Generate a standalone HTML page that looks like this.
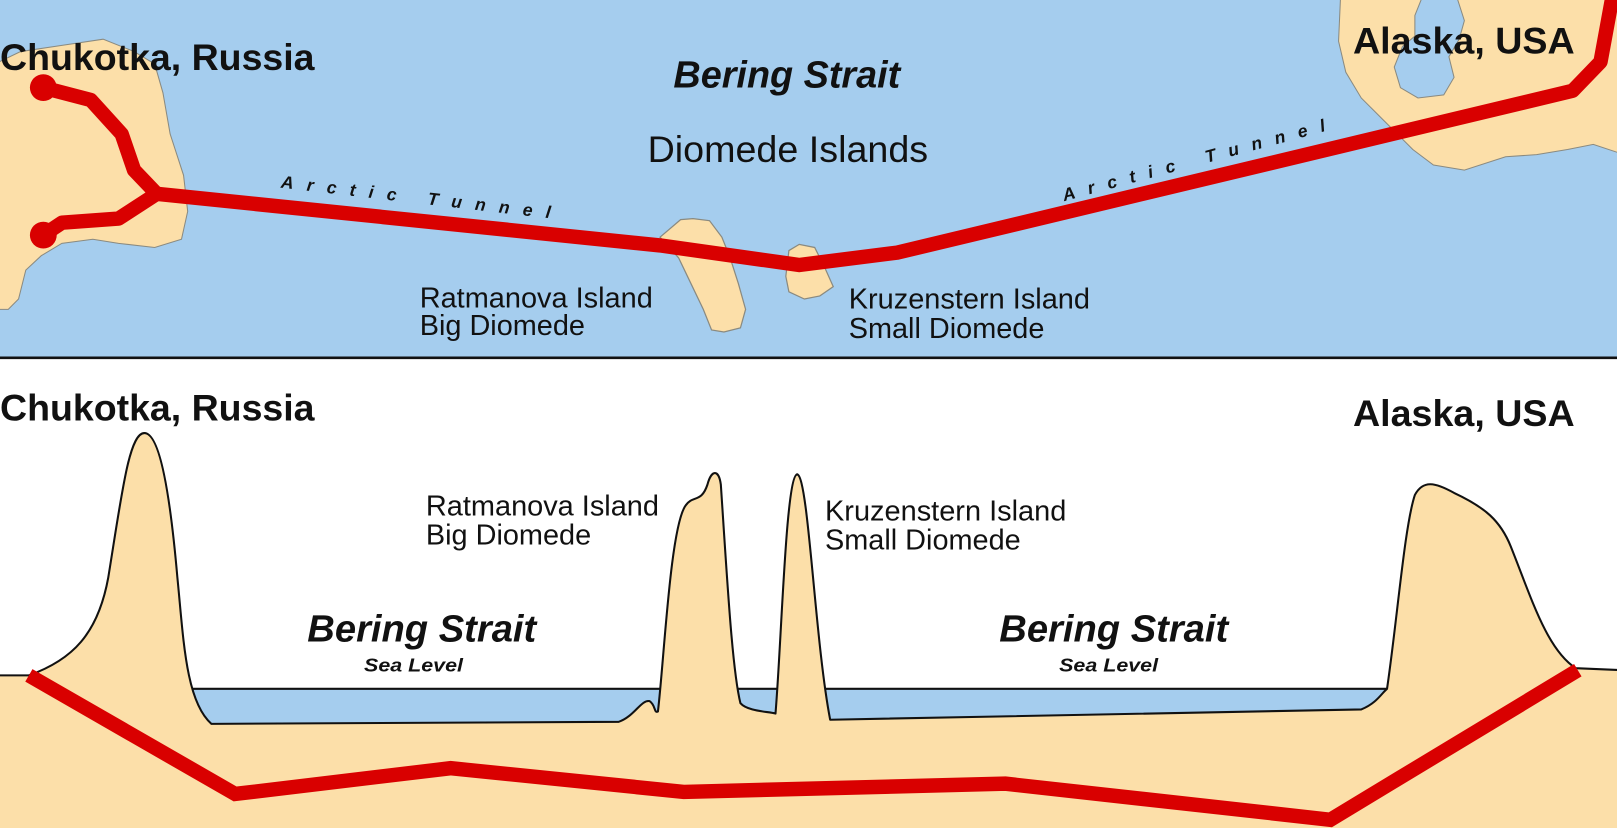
<!DOCTYPE html>
<html><head><meta charset="utf-8"><style>
html,body{margin:0;padding:0;background:#fff;}
svg{display:block;}
text{font-family:"Liberation Sans",Arial,sans-serif;fill:#111;}
</style></head><body>
<svg width="1617" height="828" viewBox="0 0 1568 803" preserveAspectRatio="none" xmlns="http://www.w3.org/2000/svg">
<rect x="0" y="0" width="1568" height="346" fill="#a5cdee"/>
<path d="M-5,62 L20,50 L60,44 L100,38 L130,50 L150,62 L158,90 L165,130 L178,170 L182,205 L176,232 L150,240 L115,236 L90,232 L60,236 L40,248 L25,262 L18,290 L8,300 L-5,300 Z" fill="#fcdfa9" stroke="#8a8a80" stroke-width="1"/>
<path d="M1300,-5 L1575,-5 L1575,150 L1545,140 L1520,145 L1490,150 L1460,152 L1420,165 L1390,160 L1370,145 L1345,120 L1320,95 L1305,70 L1298,40 Z" fill="#fcdfa9" stroke="#8a8a80" stroke-width="1"/>
<path d="M1345,-5 L1380,-5 L1372,15 L1372,35 L1360,45 L1352,65 L1358,85 L1375,95 L1400,92 L1410,75 L1405,55 L1415,38 L1420,20 L1412,-5 Z" fill="#a5cdee" stroke="#8a8a80" stroke-width="1"/>
<path d="M640,230 L660,213 L672,212 L688,214 L700,230 L708,250 L716,275 L723,300 L718,318 L702,322 L690,320 L682,300 L670,275 L658,250 Z" fill="#fcdfa9" stroke="#8a8a80" stroke-width="1.2"/>
<path d="M765,243 L775,237 L790,240 L800,260 L808,278 L795,287 L780,290 L765,283 L762,268 Z" fill="#fcdfa9" stroke="#8a8a80" stroke-width="1.2"/>
<g fill="none" stroke="#d90000" stroke-width="14" stroke-linejoin="round" stroke-linecap="round">
<polyline points="42,85 88,97 118,130 130,165 152,188"/>
<polyline points="42,228 60,216 115,212 152,188"/>
<polyline points="152,188 640,238 775,257 870,245 1525,88 1552,60 1563,0"/>
</g>
<circle cx="42" cy="85" r="13" fill="#d90000"/>
<circle cx="42" cy="228" r="13" fill="#d90000"/>
<line x1="0" y1="347" x2="1568" y2="347" stroke="#111" stroke-width="2.5"/>
<text x="0" y="68" font-size="36" font-weight="bold" textLength="305" lengthAdjust="spacingAndGlyphs">Chukotka, Russia</text>
<text x="1312" y="52" font-size="36" font-weight="bold" textLength="215" lengthAdjust="spacingAndGlyphs">Alaska, USA</text>
<text x="653" y="85" font-size="37" font-weight="bold" font-style="italic" textLength="220" lengthAdjust="spacingAndGlyphs">Bering Strait</text>
<text x="628" y="157" font-size="36" textLength="272" lengthAdjust="spacingAndGlyphs">Diomede Islands</text>
<text x="272" y="182" font-size="17" font-weight="bold" font-style="italic" textLength="263" transform="rotate(6.5 272 182)">Arctic Tunnel</text>
<text x="1032" y="195" font-size="17" font-weight="bold" font-style="italic" textLength="263" transform="rotate(-15 1032 195)">Arctic Tunnel</text>
<text x="407" y="298" font-size="28" textLength="226" lengthAdjust="spacingAndGlyphs">Ratmanova Island</text>
<text x="407" y="325" font-size="28">Big Diomede</text>
<text x="823" y="299" font-size="28" textLength="234" lengthAdjust="spacingAndGlyphs">Kruzenstern Island</text>
<text x="823" y="328" font-size="28">Small Diomede</text>

<rect x="185" y="668" width="1160" height="38" fill="#a5cdee"/>
<line x1="185" y1="668" x2="1345" y2="668" stroke="#111" stroke-width="2"/>
<path d="M-5,655 L28,655 C70,640 95,615 105,560 C118,480 125,420 140,420 C155,420 165,480 172,560 C178,620 180,680 205,702 L600,700 C615,695 622,678 630,680 C636,684 634,692 638,690 C644,640 650,510 665,490 C672,480 680,488 686,470 C690,455 697,455 699,470 C705,560 710,650 718,682 C725,690 745,690 752,692 C758,620 762,462 773,460 C784,462 790,620 805,698 L1320,688 C1335,682 1340,672 1345,668 C1355,600 1362,510 1372,480 C1380,465 1392,468 1410,478 C1440,492 1455,505 1465,530 C1485,580 1500,630 1528,648 L1575,650 L1575,810 L-5,810 Z" fill="#fcdfa9" stroke="#111" stroke-width="2" stroke-linejoin="round"/>
<polyline points="28,655 228,770 437,745 663,768 975,760 1290,795 1530,650" fill="none" stroke="#d90000" stroke-width="14" stroke-linejoin="miter"/>
<text x="0" y="408" font-size="36" font-weight="bold" textLength="305" lengthAdjust="spacingAndGlyphs">Chukotka, Russia</text>
<text x="1312" y="413" font-size="36" font-weight="bold" textLength="215" lengthAdjust="spacingAndGlyphs">Alaska, USA</text>
<text x="413" y="500" font-size="28" textLength="226" lengthAdjust="spacingAndGlyphs">Ratmanova Island</text>
<text x="413" y="528" font-size="28">Big Diomede</text>
<text x="800" y="505" font-size="28" textLength="234" lengthAdjust="spacingAndGlyphs">Kruzenstern Island</text>
<text x="800" y="533" font-size="28">Small Diomede</text>
<text x="298" y="622" font-size="37" font-weight="bold" font-style="italic" textLength="222" lengthAdjust="spacingAndGlyphs">Bering Strait</text>
<text x="353" y="651" font-size="18" font-weight="bold" font-style="italic" textLength="96" lengthAdjust="spacingAndGlyphs">Sea Level</text>
<text x="969" y="622" font-size="37" font-weight="bold" font-style="italic" textLength="222" lengthAdjust="spacingAndGlyphs">Bering Strait</text>
<text x="1027" y="651" font-size="18" font-weight="bold" font-style="italic" textLength="96" lengthAdjust="spacingAndGlyphs">Sea Level</text>
</svg>
</body></html>
